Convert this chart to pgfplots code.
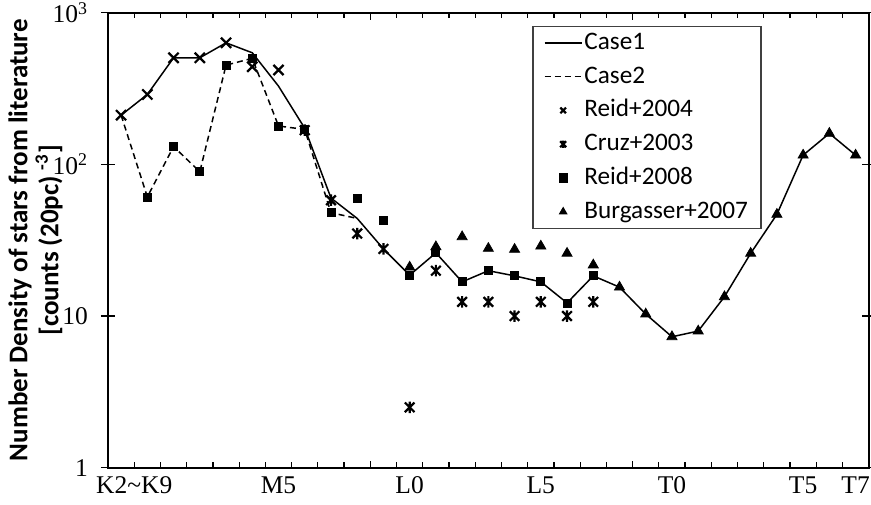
\documentclass[border=0pt]{standalone}
\usepackage{fontspec}
\setmainfont{Liberation Serif}
\newfontfamily\carlito{Carlito}
\usepackage{pgfplots}
\pgfplotsset{compat=1.18}
\pgfdeclareplotmark{xstar}{%
  \pgfpathmoveto{\pgfqpoint{-0.75\pgfplotmarksize}{-0.75\pgfplotmarksize}}%
  \pgfpathlineto{\pgfqpoint{0.75\pgfplotmarksize}{0.75\pgfplotmarksize}}%
  \pgfpathmoveto{\pgfqpoint{-0.75\pgfplotmarksize}{0.75\pgfplotmarksize}}%
  \pgfpathlineto{\pgfqpoint{0.75\pgfplotmarksize}{-0.75\pgfplotmarksize}}%
  \pgfpathmoveto{\pgfqpoint{0pt}{-0.9\pgfplotmarksize}}%
  \pgfpathlineto{\pgfqpoint{0pt}{0.9\pgfplotmarksize}}%
  \pgfusepathqstroke}
\begin{document}
\begin{tikzpicture}
\path[use as bounding box] (-54pt,-18.15pt) rectangle (381.5pt,233.85pt);
\begin{axis}[
  at={(0,0)}, anchor=south west,
  scale only axis, width=380.35pt, height=227.5pt,
  ymode=log, ymin=1, ymax=1000,
  xmin=-0.5, xmax=28.5,
  axis line style={line width=0.85pt},
  every tick/.style={black, line width=0.6pt},
  tick align=inside,
  major tick length=3.5pt,
  minor tick length=2.75pt,
  xtick={-0.5,9.5,19.5,28.5}, xticklabels={},
  minor xtick={0.5,1.5,...,27.5},
  extra x ticks={0.5,6,11,16,21,26,28},
  extra x tick labels={K2\textasciitilde K9,M5,L0,L5,T0,T5,T7},
  extra x tick style={major tick length=0pt},
  ytick=\empty,
  minor ytick={2,3,4,5,6,7,8,9,20,30,40,50,60,70,80,90,200,300,400,500,600,700,800,900},
  extra y ticks={1,10,100,1000},
  extra y tick labels={1,10,10\textsuperscript{2},10\textsuperscript{3}},
  extra y tick style={major tick length=7pt, tick align=center},
  tick label style={font=\fontsize{12.75}{14}\selectfont},
  xticklabel style={yshift=-1pt},
  yticklabel style={xshift=-3pt},
  ylabel={Number Density of stars from literature\\{}[counts (20pc) \textsuperscript{-3}]},
  ylabel style={at={(axis description cs:-0.0953,0.5)}, anchor=center, rotate=0, align=center,
    font=\carlito\bfseries\fontsize{13.5}{15.5}\selectfont},
  legend style={at={(0.5578,0.9714)}, anchor=north west, draw=black!75, line width=0.6pt,
    font=\carlito\fontsize{12.6}{15}\selectfont, inner xsep=5.5pt, inner ysep=1.5pt,
    row sep=3.4pt, cells={anchor=west},
    nodes={inner sep=1pt, text height=9pt, text depth=2.5pt}},
  legend image code/.code={\draw[mark repeat=2,mark phase=2,#1,mark size=2pt] plot coordinates {(0pt,0pt)(9.25pt,0pt)(18.5pt,0pt)};},
]
\addplot[black, line width=0.75pt, mark=none] coordinates {
(0,211)(1,289)(2,504)(3,504)(4,633)(5,544)(6,328)(7,173)(8,60)(9,44)(10,27.7)
(11,18.6)(12,26.1)(13,16.8)(14,19.9)(15,18.4)(16,16.8)(17,12.2)(18,18.4)(19,15.5)
(20,10.3)(21,7.3)(22,7.96)(23,13.4)(24,25.9)(25,46.8)(26,115)(27,160)(28,115)};
\addlegendentry{Case1}
\addplot[black, line width=0.75pt, dash pattern=on 3pt off 2pt, mark=none] coordinates {
(0,211)(1,61)(2,131)(3,89.4)(4,451)(5,500)(6,179)(7,170)(8,48)(9,44)};
\addlegendentry{Case2}
\addplot[black, only marks, mark=x, mark size=3.6pt, line width=1.1pt] coordinates {
(0,211)(1,289)(2,504)(3,504)(4,633)(5,440)(6,419)};
\addlegendentry{Reid+2004}
\addplot[black, only marks, mark=xstar, mark size=3.2pt, line width=1.1pt] coordinates {
(7,168)(8,58)(9,35)(10,27.7)(11,2.5)(12,19.9)(13,12.4)(14,12.4)(15,10)(16,12.4)(17,10)(18,12.4)};
\addlegendentry{Cruz+2003}
\addplot[black, only marks, mark=square*, mark size=2pt] coordinates {
(1,61)(2,131)(3,89.4)(4,451)(5,500)(6,179)(7,170)(8,48)(9,60)(10,43)
(11,18.6)(12,26.1)(13,16.8)(14,19.9)(15,18.4)(16,16.8)(17,12.2)(18,18.4)};
\addlegendentry{Reid+2008}
\addplot[black, only marks, mark=triangle*, mark size=2.9pt] coordinates {
(11,21)(12,28.6)(13,33.3)(14,27.9)(15,27.5)(16,28.9)(17,25.9)(18,21.7)(19,15.5)
(20,10.3)(21,7.3)(22,7.96)(23,13.4)(24,25.9)(25,46.8)(26,115)(27,160)(28,115)};
\addlegendentry{Burgasser+2007}
\end{axis}
\end{tikzpicture}
\end{document}
